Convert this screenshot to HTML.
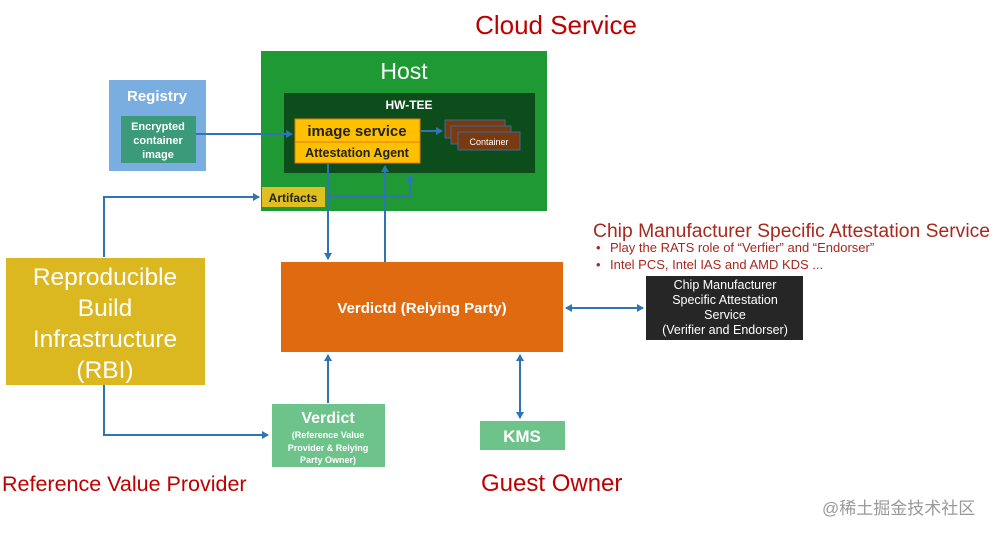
<!DOCTYPE html>
<html><head><meta charset="utf-8"><style>
body{margin:0;background:#fff}
svg{display:block;font-family:"Liberation Sans","Noto Sans CJK SC",sans-serif}
</style></head><body>
<svg width="999" height="535" viewBox="0 0 999 535" xmlns="http://www.w3.org/2000/svg">
<defs>
<marker id="a" markerWidth="8" markerHeight="8" refX="6" refY="4" orient="auto-start-reverse" markerUnits="userSpaceOnUse">
<path d="M0,0 L7,4 L0,8 z" fill="#2e75b6"/></marker>
</defs>
<text x="556" y="34" text-anchor="middle" font-size="26" fill="#c00000">Cloud Service</text>
<rect x="261" y="51" width="286" height="160" fill="#1f9933"/>
<text x="404" y="79" text-anchor="middle" font-size="23" fill="#fff">Host</text>
<rect x="284" y="93" width="251" height="80" fill="#0d4d1c"/>
<text x="409" y="109" text-anchor="middle" font-size="12" font-weight="bold" fill="#fff">HW-TEE</text>
<rect x="295" y="119" width="125" height="23" fill="#ffc000" stroke="#e07a10" stroke-width="1"/>
<text x="357" y="136" text-anchor="middle" font-size="15" font-weight="bold" fill="#222">image service</text>
<rect x="295" y="142" width="125" height="21" fill="#ffc000" stroke="#e07a10" stroke-width="1"/>
<text x="357" y="157" text-anchor="middle" font-size="12.5" font-weight="bold" fill="#222">Attestation Agent</text>
<rect x="445" y="120" width="60" height="18" fill="#7a3a10" stroke="#3a6aa0"/>
<rect x="451" y="126" width="60" height="18" fill="#7a3a10" stroke="#3a6aa0"/>
<rect x="458" y="132" width="62" height="18" fill="#7a3a10" stroke="#3a6aa0"/>
<text x="489" y="145" text-anchor="middle" font-size="9" fill="#fff">Container</text>
<line x1="421" y1="131" x2="442" y2="131" stroke="#2e75b6" stroke-width="2" marker-end="url(#a)"/>
<rect x="109" y="80" width="97" height="91" fill="#7aaee0"/>
<text x="157" y="101" text-anchor="middle" font-size="15" font-weight="bold" fill="#fff">Registry</text>
<rect x="121" y="116" width="75" height="47" fill="#3a9a7a"/>
<text x="158" y="130" text-anchor="middle" font-size="11" font-weight="bold" fill="#fff">Encrypted</text>
<text x="158" y="144" text-anchor="middle" font-size="11" font-weight="bold" fill="#fff">container</text>
<text x="158" y="158" text-anchor="middle" font-size="11" font-weight="bold" fill="#fff">image</text>
<line x1="196" y1="134" x2="292" y2="134" stroke="#2e75b6" stroke-width="2" marker-end="url(#a)"/>
<rect x="262" y="187" width="63" height="20" fill="#e0c020"/>
<text x="293" y="202" text-anchor="middle" font-size="12" font-weight="bold" fill="#222">Artifacts</text>
<polyline points="104,257 104,197 259,197" fill="none" stroke="#2e75b6" stroke-width="2" marker-end="url(#a)"/>
<polyline points="325,197 410,197 410,175" fill="none" stroke="#2e75b6" stroke-width="2" marker-end="url(#a)"/>
<line x1="328" y1="163" x2="328" y2="259" stroke="#2e75b6" stroke-width="2" marker-end="url(#a)"/>
<line x1="385" y1="262" x2="385" y2="166" stroke="#2e75b6" stroke-width="2" marker-end="url(#a)"/>
<rect x="281" y="262" width="282" height="90" fill="#e06a10"/>
<text x="422" y="313" text-anchor="middle" font-size="15" font-weight="bold" fill="#fff">Verdictd (Relying Party)</text>
<rect x="6" y="258" width="199" height="127" fill="#dcb820"/>
<g font-size="24.5" fill="#fff" text-anchor="middle">
<text x="105" y="285">Reproducible</text>
<text x="105" y="316">Build</text>
<text x="105" y="347">Infrastructure</text>
<text x="105" y="378">(RBI)</text>
</g>
<polyline points="104,385 104,435 268,435" fill="none" stroke="#2e75b6" stroke-width="2" marker-end="url(#a)"/>
<rect x="272" y="404" width="113" height="63" fill="#6ec38a"/>
<text x="328" y="423" text-anchor="middle" font-size="16" font-weight="bold" fill="#fff">Verdict</text>
<g font-size="9" font-weight="bold" fill="#fff" text-anchor="middle">
<text x="328" y="438">(Reference Value</text>
<text x="328" y="451">Provider &amp; Relying</text>
<text x="328" y="463">Party Owner)</text>
</g>
<line x1="328" y1="403" x2="328" y2="355" stroke="#2e75b6" stroke-width="2" marker-end="url(#a)"/>
<rect x="480" y="421" width="85" height="29" fill="#6ec38a"/>
<text x="522" y="442" text-anchor="middle" font-size="17" font-weight="bold" fill="#fff">KMS</text>
<line x1="520" y1="355" x2="520" y2="418" stroke="#2e75b6" stroke-width="2" marker-start="url(#a)" marker-end="url(#a)"/>
<rect x="646" y="276" width="157" height="64" fill="#262626"/>
<g font-size="12.5" fill="#fff" text-anchor="middle">
<text x="725" y="289">Chip Manufacturer</text>
<text x="725" y="304">Specific Attestation</text>
<text x="725" y="319">Service</text>
<text x="725" y="334">(Verifier and Endorser)</text>
</g>
<line x1="566" y1="308" x2="643" y2="308" stroke="#2e75b6" stroke-width="2" marker-start="url(#a)" marker-end="url(#a)"/>
<text x="593" y="237" font-size="19" textLength="397" lengthAdjust="spacingAndGlyphs" fill="#a8281e">Chip Manufacturer Specific Attestation Service</text>
<g font-size="13" fill="#a8281e">
<text x="596" y="252">•</text><text x="610" y="252">Play the RATS role of “Verfier” and “Endorser”</text>
<text x="596" y="269">•</text><text x="610" y="269">Intel PCS, Intel IAS and AMD KDS ...</text>
</g>
<text x="2" y="491" font-size="21.5" fill="#c00000">Reference Value Provider</text>
<text x="481" y="491" font-size="24" fill="#c00000">Guest Owner</text>
<text x="822" y="514" font-size="17" fill="#999">@稀土掘金技术社区</text>
</svg>
</body></html>
